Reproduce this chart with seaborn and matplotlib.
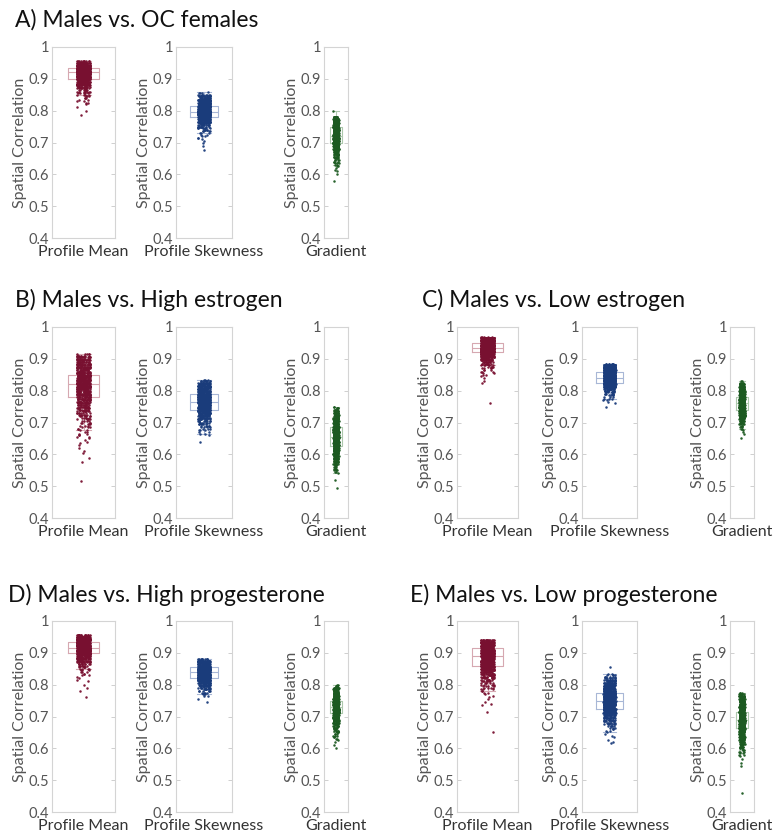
import numpy as np
import pandas as pd
import matplotlib
matplotlib.use("Agg")
import matplotlib.pyplot as plt
from matplotlib.ticker import FixedLocator, FixedFormatter
import seaborn as sns

# ---------------- data ----------------
measures = ["Profile Mean", "Profile Skewness", "Gradient"]
panel_titles = ["A) Males vs. OC females", "B) Males vs. High estrogen",
                "C) Males vs. Low estrogen", "D) Males vs. High progesterone",
                "E) Males vs. Low progesterone"]
y_ticks = [0.4, 0.5, 0.6, 0.7, 0.8, 0.9, 1.0]
y_tick_labels = ["0.4", "0.5", "0.6", "0.7", "0.8", "0.9", "1"]
bin_step = 0.005  # counts are given per 0.005 bin, from the top value downward

# A) OC females
a_mean_top = 0.955
a_mean_counts = [10, 30, 45, 55, 60, 65, 65, 70, 65, 60, 50, 35, 35, 30, 25, 20, 15, 12, 9, 7, 5, 4, 3, 3, 2, 2, 2, 1]
a_mean_extra = [0.81, 0.80, 0.785]
a_skew_top = 0.860
a_skew_counts = [1, 3, 8, 15, 22, 30, 35, 40, 45, 50, 50, 50, 50, 65, 65, 65, 50, 40, 30, 22, 16, 12, 9, 7, 5, 4, 3, 2, 2, 2, 1, 1, 1]
a_skew_extra = [0.69, 0.675]
a_grad_top = 0.780
a_grad_counts = [15, 25, 30, 32, 33, 33, 32, 40, 40, 40, 40, 40, 50, 50, 50, 50, 40, 32, 26, 20, 16, 13, 10, 8, 7, 6, 5, 4, 3, 3, 2, 2, 1, 1, 1]
a_grad_extra = [0.80, 0.60, 0.58]

# B) High estrogen
b_mean_top = 0.915
b_mean_counts = [5, 10, 12, 14, 15, 16, 16, 17, 17, 18, 19, 20, 20, 22, 28, 30, 32, 33, 33, 33, 32, 30, 28, 26, 24, 22, 20, 18,
                 17, 16, 15, 14, 13, 12, 11, 10, 9, 8, 7, 6, 5, 5, 4, 4, 3, 3, 3, 2, 2, 2, 2, 2, 2, 1, 1, 1, 1, 1, 0, 1, 0, 1, 1]
b_mean_extra = [0.59, 0.575, 0.515]
b_skew_top = 0.835
b_skew_counts = [3, 10, 18, 22, 24, 25, 26, 26, 23, 23, 40, 40, 40, 40, 40, 42, 42, 40, 40, 38, 32, 26, 22, 18, 15, 12, 10, 8, 6, 5, 4, 3, 3, 2, 2, 1]
b_skew_extra = [0.64]
b_grad_top = 0.750
b_grad_counts = [2, 4, 6, 8, 10, 12, 14, 16, 18, 20, 22, 22, 22, 22, 22, 36, 36, 36, 36, 36, 36, 34, 32, 30, 28, 26,
                 24, 21, 18, 16, 14, 12, 10, 9, 8, 7, 6, 5, 4, 3, 3, 2, 1]
b_grad_extra = [0.52, 0.495]

# C) Low estrogen
c_mean_top = 0.970
c_mean_counts = [5, 30, 50, 55, 60, 70, 70, 65, 70, 70, 60, 45, 35, 25, 20, 15, 12, 8, 6, 5, 4, 3, 3, 2, 2, 1, 1]
c_mean_extra = [0.83, 0.825, 0.76]
c_skew_top = 0.885
c_skew_counts = [8, 30, 40, 42, 42, 40, 65, 65, 65, 65, 65, 65, 50, 40, 32, 25, 18, 12, 8, 6, 4, 3, 3, 2, 1]
c_skew_extra = [0.76, 0.75]
c_grad_top = 0.830
c_grad_counts = [2, 4, 12, 18, 20, 22, 24, 24, 25, 25, 25, 50, 50, 50, 50, 52, 52, 50, 46, 38, 30, 24, 18, 13, 10, 8, 6, 4, 3, 2, 2, 1, 1]
c_grad_extra = [0.665, 0.65]

# D) High progesterone
d_mean_top = 0.955
d_mean_counts = [15, 40, 50, 50, 50, 50, 55, 55, 55, 60, 60, 55, 45, 35, 25, 20, 15, 12, 10, 7, 5, 4, 3, 3, 2, 2, 1, 1, 1, 1]
d_mean_extra = [0.80, 0.79, 0.78, 0.76]
d_skew_top = 0.880
d_skew_counts = [10, 35, 42, 42, 40, 35, 65, 65, 65, 65, 65, 60, 45, 38, 30, 24, 18, 14, 10, 8, 6, 4, 3, 2]
d_skew_extra = [0.755, 0.745]
d_grad_top = 0.800
d_grad_counts = [2, 6, 12, 16, 18, 20, 22, 24, 26, 28, 28, 50, 50, 50, 50, 50, 50, 50, 45,
                 35, 28, 22, 18, 15, 12, 10, 8, 7, 6, 5, 4, 3, 3, 2, 2, 1, 1]
d_grad_extra = [0.61, 0.60]

# E) Low progesterone
e_mean_top = 0.940
e_mean_counts = [15, 35, 38, 38, 38, 38, 40, 40, 40, 40, 40, 40, 38, 36, 34, 32,
                 30, 27, 24, 21, 18, 15, 13, 11, 9, 8, 7, 6, 5, 4, 4, 3, 2, 2, 1, 1, 1, 1, 0, 1, 1]
e_mean_extra = [0.735, 0.715, 0.65]
e_skew_top = 0.835
e_skew_counts = [2, 4, 6, 8, 12, 16, 20, 22, 24, 26, 28, 30, 40, 40, 40, 40, 40, 42, 40, 40, 40, 38,
                 34, 30, 26, 22, 19, 16, 13, 10, 8, 7, 6, 5, 3, 2, 2, 1, 1, 1, 1]
e_skew_extra = [0.855, 0.625, 0.62, 0.618]
e_grad_top = 0.775
e_grad_counts = [3, 8, 12, 14, 15, 16, 17, 18, 19, 20, 21, 22, 22, 40, 40, 40, 40, 40, 42, 40, 38, 36, 34,
                 30, 26, 22, 19, 16, 14, 12, 10, 8, 7, 6, 5, 4, 3, 3, 2, 2, 1, 0, 1, 0, 1]
e_grad_extra = [0.545, 0.46]

series = {
    0: [(a_mean_top, a_mean_counts, a_mean_extra), (a_skew_top, a_skew_counts, a_skew_extra), (a_grad_top, a_grad_counts, a_grad_extra)],
    1: [(b_mean_top, b_mean_counts, b_mean_extra), (b_skew_top, b_skew_counts, b_skew_extra), (b_grad_top, b_grad_counts, b_grad_extra)],
    2: [(c_mean_top, c_mean_counts, c_mean_extra), (c_skew_top, c_skew_counts, c_skew_extra), (c_grad_top, c_grad_counts, c_grad_extra)],
    3: [(d_mean_top, d_mean_counts, d_mean_extra), (d_skew_top, d_skew_counts, d_skew_extra), (d_grad_top, d_grad_counts, d_grad_extra)],
    4: [(e_mean_top, e_mean_counts, e_mean_extra), (e_skew_top, e_skew_counts, e_skew_extra), (e_grad_top, e_grad_counts, e_grad_extra)],
}

def expand(top, counts, extra):
    centers = np.round(top - bin_step * np.arange(len(counts)), 4)
    return np.concatenate([np.repeat(centers, counts), np.asarray(extra, float)])

# ---------------- style / layout ----------------
point_colors = ["#781030", "#1a3c7b", "#1c5a21"]
box_colors = ["#d6a8b1", "#a8b7d6", "#adc8ad"]
FONT = ["Lato", "DejaVu Sans"]
plt.rcParams["font.family"] = FONT

W, H = 774, 834
fig = plt.figure(figsize=(W / 100, H / 100), dpi=100)

col_x = [[(52, 115), (176, 232), (324, 348)],
         [(457, 518), (582, 637), (730, 754)]]
row_y = [(47, 238), (327, 518), (621, 812)]
panel_pos = [(0, 0), (0, 1), (1, 1), (0, 2), (1, 2)]  # (col, row)
title_pos = [(15, 20), (15, 300), (422, 300), (8, 595), (410, 595)]

np.random.seed(3)
for p in range(5):
    col, row = panel_pos[p]
    y0, y1 = row_y[row]
    fig.text(title_pos[p][0] / W, 1 - title_pos[p][1] / H, panel_titles[p],
             fontsize=16.5, color="#111111", ha="left", va="center")
    for m in range(3):
        x0, x1 = col_x[col][m]
        ax = fig.add_axes([x0 / W, 1 - y1 / H, (x1 - x0) / W, (y1 - y0) / H])
        vals = expand(*series[p][m])
        df = pd.DataFrame({"measure": measures[m], "value": vals})
        sns.boxplot(data=df, x="measure", y="value", ax=ax, fill=False, width=0.5,
                    color=box_colors[m], linewidth=0.8, showfliers=False, whis=1.5)
        sns.stripplot(data=df, x="measure", y="value", ax=ax, color=point_colors[m],
                      jitter=0.11, size=1.8, linewidth=0, alpha=0.95, zorder=3)
        ax.set_ylim(0.4, 1.0)
        ax.set_xlim(-0.5, 0.5)
        ax.yaxis.set_major_locator(FixedLocator(y_ticks))
        ax.yaxis.set_major_formatter(FixedFormatter(y_tick_labels))
        ax.set_xlabel("")
        ax.set_ylabel("Spatial Correlation", fontsize=11.5, color="#555555", labelpad=1)
        for s in ax.spines.values():
            s.set_color("#d4d4d4")
            s.set_linewidth(0.8)
        ax.tick_params(axis="y", direction="in", length=3, width=0.6, color="#c8c8c8",
                       labelsize=10.5, labelcolor="#555555", pad=2, left=True, right=True)
        ax.tick_params(axis="x", length=0, labelsize=11.5, labelcolor="#333333", pad=5)

fig.savefig("out.png", dpi=100)
